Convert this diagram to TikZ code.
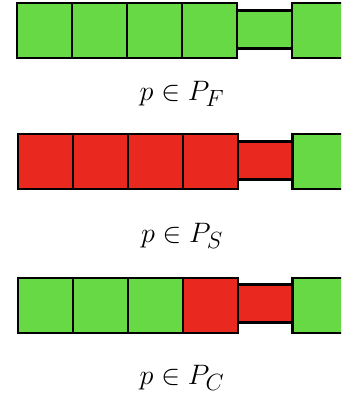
\documentclass[tikz,border=0pt]{standalone}
\usepackage{amssymb}
\definecolor{okgreen}{RGB}{102,217,68}
\definecolor{badred}{RGB}{233,40,32}
\tikzset{
  cell/.style={draw=black, line width=2.2pt, minimum width=55pt, minimum height=55pt, inner sep=0pt, outer sep=0pt},
  link/.style={draw=black, line width=2.2pt, minimum width=55pt, minimum height=38pt, inner sep=0pt, outer sep=0pt},
  tag/.style={font=\Huge, scale=1.13}
}
\begin{document}
\begin{tikzpicture}[x=1pt,y=-1pt]
  \useasboundingbox (0,0) rectangle (341,403);
  \clip (0,0) rectangle (341,403);
  % row F
  \node[link,fill=okgreen] (fl) at (264.5,29.5) {};
  \node[cell,fill=okgreen] (f1) at (44.5,30.5) {};
  \node[cell,fill=okgreen] (f2) at (99.5,30.5) {};
  \node[cell,fill=okgreen] (f3) at (154.5,30.5) {};
  \node[cell,fill=okgreen] (f4) at (209.5,30.5) {};
  \node[cell,fill=okgreen] (f5) at (319.5,30.5) {};
  \node[tag] (lf) at (182,94) {$p \in P_F$};
  % row S
  \node[link,fill=badred] (sl) at (265,160.5) {};
  \node[cell,fill=badred] (s1) at (45.5,161.5) {};
  \node[cell,fill=badred] (s2) at (100.5,161.5) {};
  \node[cell,fill=badred] (s3) at (155.5,161.5) {};
  \node[cell,fill=badred] (s4) at (210.5,161.5) {};
  \node[cell,fill=okgreen] (s5) at (320,161.5) {};
  \node[tag] (ls) at (182,236) {$p \in P_S$};
  % row C
  \node[link,fill=badred] (cl) at (265,303.5) {};
  \node[cell,fill=okgreen] (c1) at (45.5,305.5) {};
  \node[cell,fill=okgreen] (c2) at (100.5,305.5) {};
  \node[cell,fill=okgreen] (c3) at (155.5,305.5) {};
  \node[cell,fill=badred] (c4) at (210.5,305.5) {};
  \node[cell,fill=okgreen] (c5) at (320,305.5) {};
  \node[tag] (lc) at (182,378) {$p \in P_C$};
\end{tikzpicture}
\end{document}
